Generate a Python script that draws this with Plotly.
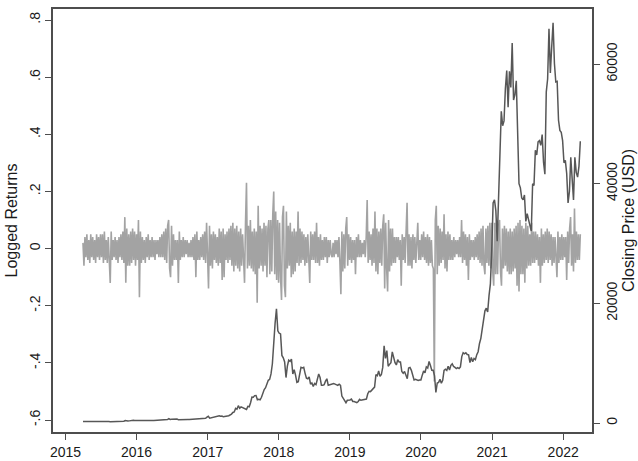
import pandas as pd
import plotly.graph_objects as go

# Log returns, one value every 5 days from 2015-04-01
log_returns = [
    0.02, -0.06, 0.04, -0.03, 0.05, -0.04, 0.03, -0.05, 0.05, -0.03, 0.04, -0.04, 0.03, -0.05, 0.05, -0.03,
    0.04, -0.04, 0.05, -0.03, 0.05, -0.05, 0.06, -0.04, 0.03, -0.05, 0.04, -0.05, -0.12, 0.06, -0.04, 0.03,
    -0.03, 0.04, -0.04, 0.03, -0.05, 0.04, -0.03, 0.05, -0.04, 0.06, -0.05, 0.11, -0.12, 0.07, -0.06, 0.05,
    -0.06, 0.06, -0.05, 0.07, -0.04, 0.06, -0.06, 0.05, -0.04, 0.10, -0.17, 0.06, -0.05, 0.04, -0.04, 0.03,
    -0.05, 0.04, -0.03, 0.05, -0.04, 0.03, -0.03, 0.04, -0.03, 0.03, -0.04, 0.03, -0.02, 0.03, -0.03, 0.04,
    -0.03, 0.05, -0.03, 0.06, -0.04, 0.07, -0.05, 0.08, 0.10, -0.07, -0.10, 0.08, -0.06, 0.05, -0.04, 0.03,
    -0.04, 0.03, -0.12, 0.06, -0.04, 0.03, -0.03, 0.04, -0.03, 0.03, -0.02, 0.03, -0.03, 0.02, -0.03, 0.03,
    -0.03, 0.04, -0.04, 0.05, -0.10, 0.06, -0.04, 0.03, -0.04, 0.04, -0.03, 0.05, -0.04, 0.06, -0.05, 0.09,
    -0.07, -0.14, 0.08, -0.06, 0.05, -0.07, 0.06, -0.04, 0.05, -0.05, 0.04, -0.06, 0.07, -0.05, 0.06, -0.11,
    0.07, -0.10, 0.05, -0.04, 0.06, -0.05, 0.07, -0.04, 0.08, -0.06, 0.09, -0.08, 0.07, -0.06, 0.08, -0.07,
    0.06, -0.08, 0.07, -0.06, 0.05, -0.07, -0.12, 0.09, 0.23, -0.07, 0.08, -0.06, 0.10, -0.07, 0.06, -0.08,
    0.07, -0.09, 0.06, -0.19, 0.15, -0.07, 0.08, -0.06, 0.07, -0.08, 0.09, -0.06, 0.08, -0.10, 0.07, 0.10,
    -0.09, 0.10, -0.08, 0.12, 0.20, -0.09, 0.13, -0.11, 0.10, -0.12, 0.09, -0.10, -0.18, 0.11, 0.15, -0.13,
    -0.17, 0.13, -0.07, 0.08, -0.06, 0.09, -0.10, 0.06, -0.09, 0.07, -0.08, 0.06, -0.05, 0.13, -0.06, 0.07,
    -0.05, 0.06, -0.04, 0.05, -0.06, 0.04, -0.05, 0.05, -0.07, -0.12, 0.06, -0.04, 0.05, -0.04, 0.06, -0.05,
    0.09, -0.05, 0.04, -0.06, 0.05, -0.04, 0.03, -0.04, 0.04, -0.03, 0.04, -0.05, 0.03, -0.03, 0.03, -0.02,
    -0.03, 0.02, -0.03, 0.03, -0.02, 0.03, -0.03, 0.04, -0.05, -0.16, 0.06, -0.08, 0.05, -0.07, 0.07, 0.11,
    -0.06, 0.05, -0.04, 0.04, -0.05, 0.03, -0.04, 0.03, -0.09, 0.04, -0.03, 0.05, -0.03, 0.03, -0.03, 0.02,
    -0.02, 0.03, -0.03, 0.04, 0.17, -0.05, 0.06, -0.04, 0.05, -0.06, 0.07, -0.05, 0.13, -0.08, 0.07, -0.09,
    0.06, -0.05, 0.07, -0.06, 0.08, 0.12, -0.14, 0.09, -0.07, -0.15, 0.10, -0.08, 0.07, -0.06, 0.07, -0.05,
    0.04, -0.05, 0.04, -0.03, 0.04, -0.04, 0.03, -0.13, 0.05, -0.04, 0.04, -0.05, 0.06, 0.16, -0.06, 0.05,
    -0.06, 0.04, -0.07, 0.05, -0.04, 0.04, -0.05, 0.04, 0.09, -0.04, 0.03, -0.04, 0.05, -0.03, 0.06, -0.04,
    0.04, -0.05, 0.05, -0.06, 0.04, -0.05, 0.03, -0.06, -0.07, -0.465, 0.10, 0.15, -0.09, 0.08, -0.06, 0.07,
    -0.05, 0.06, -0.04, 0.12, -0.07, 0.05, -0.08, 0.06, -0.04, 0.05, -0.04, 0.03, -0.04, 0.04, -0.03, 0.03,
    -0.02, 0.03, -0.03, 0.04, -0.03, 0.10, -0.05, 0.06, -0.04, 0.05, -0.06, 0.04, -0.11, 0.05, -0.04, 0.03,
    -0.03, 0.03, -0.04, 0.04, -0.03, 0.05, -0.04, 0.06, -0.05, 0.07, -0.06, 0.08, -0.06, -0.09, 0.07, -0.05,
    0.08, -0.06, 0.09, -0.07, 0.09, -0.08, -0.13, 0.09, -0.09, 0.10, -0.09, 0.08, 0.10, -0.08, -0.13, 0.07,
    -0.07, 0.08, -0.06, 0.07, -0.08, 0.06, -0.09, 0.07, -0.09, 0.06, -0.08, 0.07, -0.07, 0.08, -0.13, 0.09,
    -0.15, 0.10, -0.09, 0.08, -0.09, 0.07, -0.12, 0.09, -0.07, 0.08, -0.06, 0.05, -0.06, 0.09, -0.05, 0.06,
    -0.05, 0.06, -0.04, 0.05, -0.06, 0.04, -0.12, 0.07, -0.06, 0.05, -0.05, 0.06, -0.04, 0.07, -0.05, 0.06,
    -0.04, 0.05, -0.06, 0.04, -0.05, 0.04, -0.06, -0.10, 0.06, -0.05, 0.04, -0.04, 0.05, -0.04, 0.04, -0.03,
    0.04, -0.11, 0.06, -0.05, 0.07, 0.11, -0.06, 0.05, -0.08, 0.14, -0.05, 0.06, -0.04, 0.05, -0.04, 0.05,
]

# Weekly closing price in USD, Wednesdays from 2015-04-01
close_usd = [
    # 2015
    247, 253, 224, 226, 236,  239, 241, 237, 237,  225, 230, 250, 243,
    255, 270, 284, 277, 288,  279, 264, 226, 229,  230, 240, 230, 233, 236,
    246, 253, 270, 292,  403, 336, 333, 358,  416, 452, 455, 441, 430,
    # 2016
    431, 450, 382, 393,  375, 376, 420, 423,  422, 413, 416, 416, 415,
    421, 423, 441, 449,  448, 455, 441, 473,  537, 579, 737, 598, 639,
    670, 652, 666, 655,  567, 590, 578, 580, 575,  610, 610, 598, 604,
    612, 637, 630, 672,  730, 712, 741, 737, 742,  768, 778, 800, 975,
    # 2017
    1130, 810, 870, 894,  1010, 985, 1035, 1180,  1230, 1150, 1170, 1040, 1045,
    1125, 1180, 1215, 1310,  1500, 1760, 1850, 2440, 2300,  2890, 2480, 2700, 2590,
    2600, 2380, 2260, 2780,  2710, 3400, 4330, 4320, 4580,  4600, 3880, 3970, 3880,
    4310, 5060, 5600, 5900,  6740, 7140, 7300, 8200, 9900,  13700, 16700, 19100, 15400,
    # 2018
    15000, 14900, 11300, 10900, 10200,  7600, 9500, 10500, 10300,  10700, 8200, 8900, 8000,
    6800, 6900, 8200, 9300,  9200, 9300, 8300, 7500, 7400,  7700, 6500, 6700, 6100,
    6600, 6400, 7400, 8200,  7600, 6300, 6300, 6400, 7000,  7400, 6300, 6400, 6500,
    6500, 6600, 6500, 6400, 6300,  6500, 6300, 4500, 4200,  3900, 3400, 3800, 3800,
    # 2019
    3850, 4000, 3600, 3600, 3450,  3400, 3600, 3950, 3800,  3850, 3880, 4050, 4000,
    4900, 5300, 5250, 5450,  5800, 6000, 8100, 7900, 8700,  7800, 8100, 9300, 12900,
    10800, 12100, 9500, 9800, 10100,  11900, 10900, 10100, 9700,  10600, 10200, 10200, 8600,
    8300, 8600, 8000, 7400, 9200,  9300, 8800, 8100, 7200,  7300, 7200, 7100, 7200,
    # 2020
    7200, 8000, 8700, 8400, 9400,  9200, 10300, 9600, 8800,  8800, 7900, 5100, 6700,
    6800, 7300, 6650, 7150, 8800,  9000, 8800, 9500, 8850,  9650, 9900, 9450, 9300,
    9100, 9250, 9100, 9380, 11100,  11750, 11560, 11750, 11450,  11400, 10100, 10950, 10250, 10780,
    10600, 11430, 11920, 13300,  14150, 15700, 17800, 18750,  19200, 18550, 21300, 23250, 28950,
    # 2021
    36800, 37300, 35500, 30400,  37600, 44800, 52100, 49700,  50500, 55900, 58900, 52800, 58800,
    56100, 63500, 54000, 54900,  57200, 49700, 40000, 39300,  37600, 37300, 38100, 33700, 35000,
    34000, 32900, 32100, 40000,  39700, 45600, 44800, 47000,  47200, 46400, 48200, 43600, 41600,
    55300, 57500, 65900, 58500,  62900, 66900, 60100, 57000,  57100, 50600, 48900, 48600, 47200,
    # 2022
    43500, 43900, 41700, 36800,  38700, 44400, 40500, 37300,  44400, 41900, 41100, 42900, 47100,
]

ret_dates = pd.date_range("2015-04-01", periods=len(log_returns), freq="5D")
price_dates = pd.date_range("2015-04-01", periods=len(close_usd), freq="7D")

years = [2015, 2016, 2017, 2018, 2019, 2020, 2021, 2022]
ret_ticks = [-0.6, -0.4, -0.2, 0, 0.2, 0.4, 0.6, 0.8]
ret_tick_labels = ["-.6", "-.4", "-.2", "0", ".2", ".4", ".6", ".8"]
price_ticks = [0, 20000, 40000, 60000]
price_tick_labels = ["0", "20000", "40000", "60000"]

axis_col = "#4d4d4d"
text_col = "#1a1a1a"

fig = go.Figure()
fig.add_trace(go.Scatter(
    x=ret_dates, y=log_returns, mode="lines",
    line=dict(color="#a3a3a3", width=1.6), yaxis="y", hoverinfo="skip",
))
fig.add_trace(go.Scatter(
    x=price_dates, y=close_usd, mode="lines",
    line=dict(color="#575757", width=1.5), yaxis="y2", hoverinfo="skip",
))

common = dict(
    showgrid=False, zeroline=False, showline=True, linecolor=axis_col,
    linewidth=1.5, ticks="outside", ticklen=6, tickwidth=1.2, tickcolor=axis_col,
    tickfont=dict(size=14, color=text_col), automargin=False,
)

fig.update_layout(
    width=638, height=461,
    margin=dict(l=53, r=46, t=9, b=29),
    paper_bgcolor="white", plot_bgcolor="white",
    showlegend=False,
    font=dict(family="Liberation Sans, Arial, Helvetica, sans-serif", size=14, color=text_col),
    xaxis=dict(
        type="date", range=["2014-10-29", "2022-05-29"],
        tickvals=[f"{y}-01-01" for y in years], ticktext=[str(y) for y in years],
        mirror=True, **common,
    ),
    yaxis=dict(
        range=[-0.642, 0.8385], tickvals=ret_ticks, ticktext=ret_tick_labels,
        tickangle=-90, title=dict(text="Logged Returns", standoff=5, font=dict(size=16)),
        **common,
    ),
    yaxis2=dict(
        overlaying="y", side="right", range=[-1500, 69200],
        tickvals=price_ticks, ticktext=price_tick_labels, tickangle=-90,
        title=dict(text="Closing Price (USD)", standoff=3, font=dict(size=16)),
        **common,
    ),
)

fig.write_html("out.html")
